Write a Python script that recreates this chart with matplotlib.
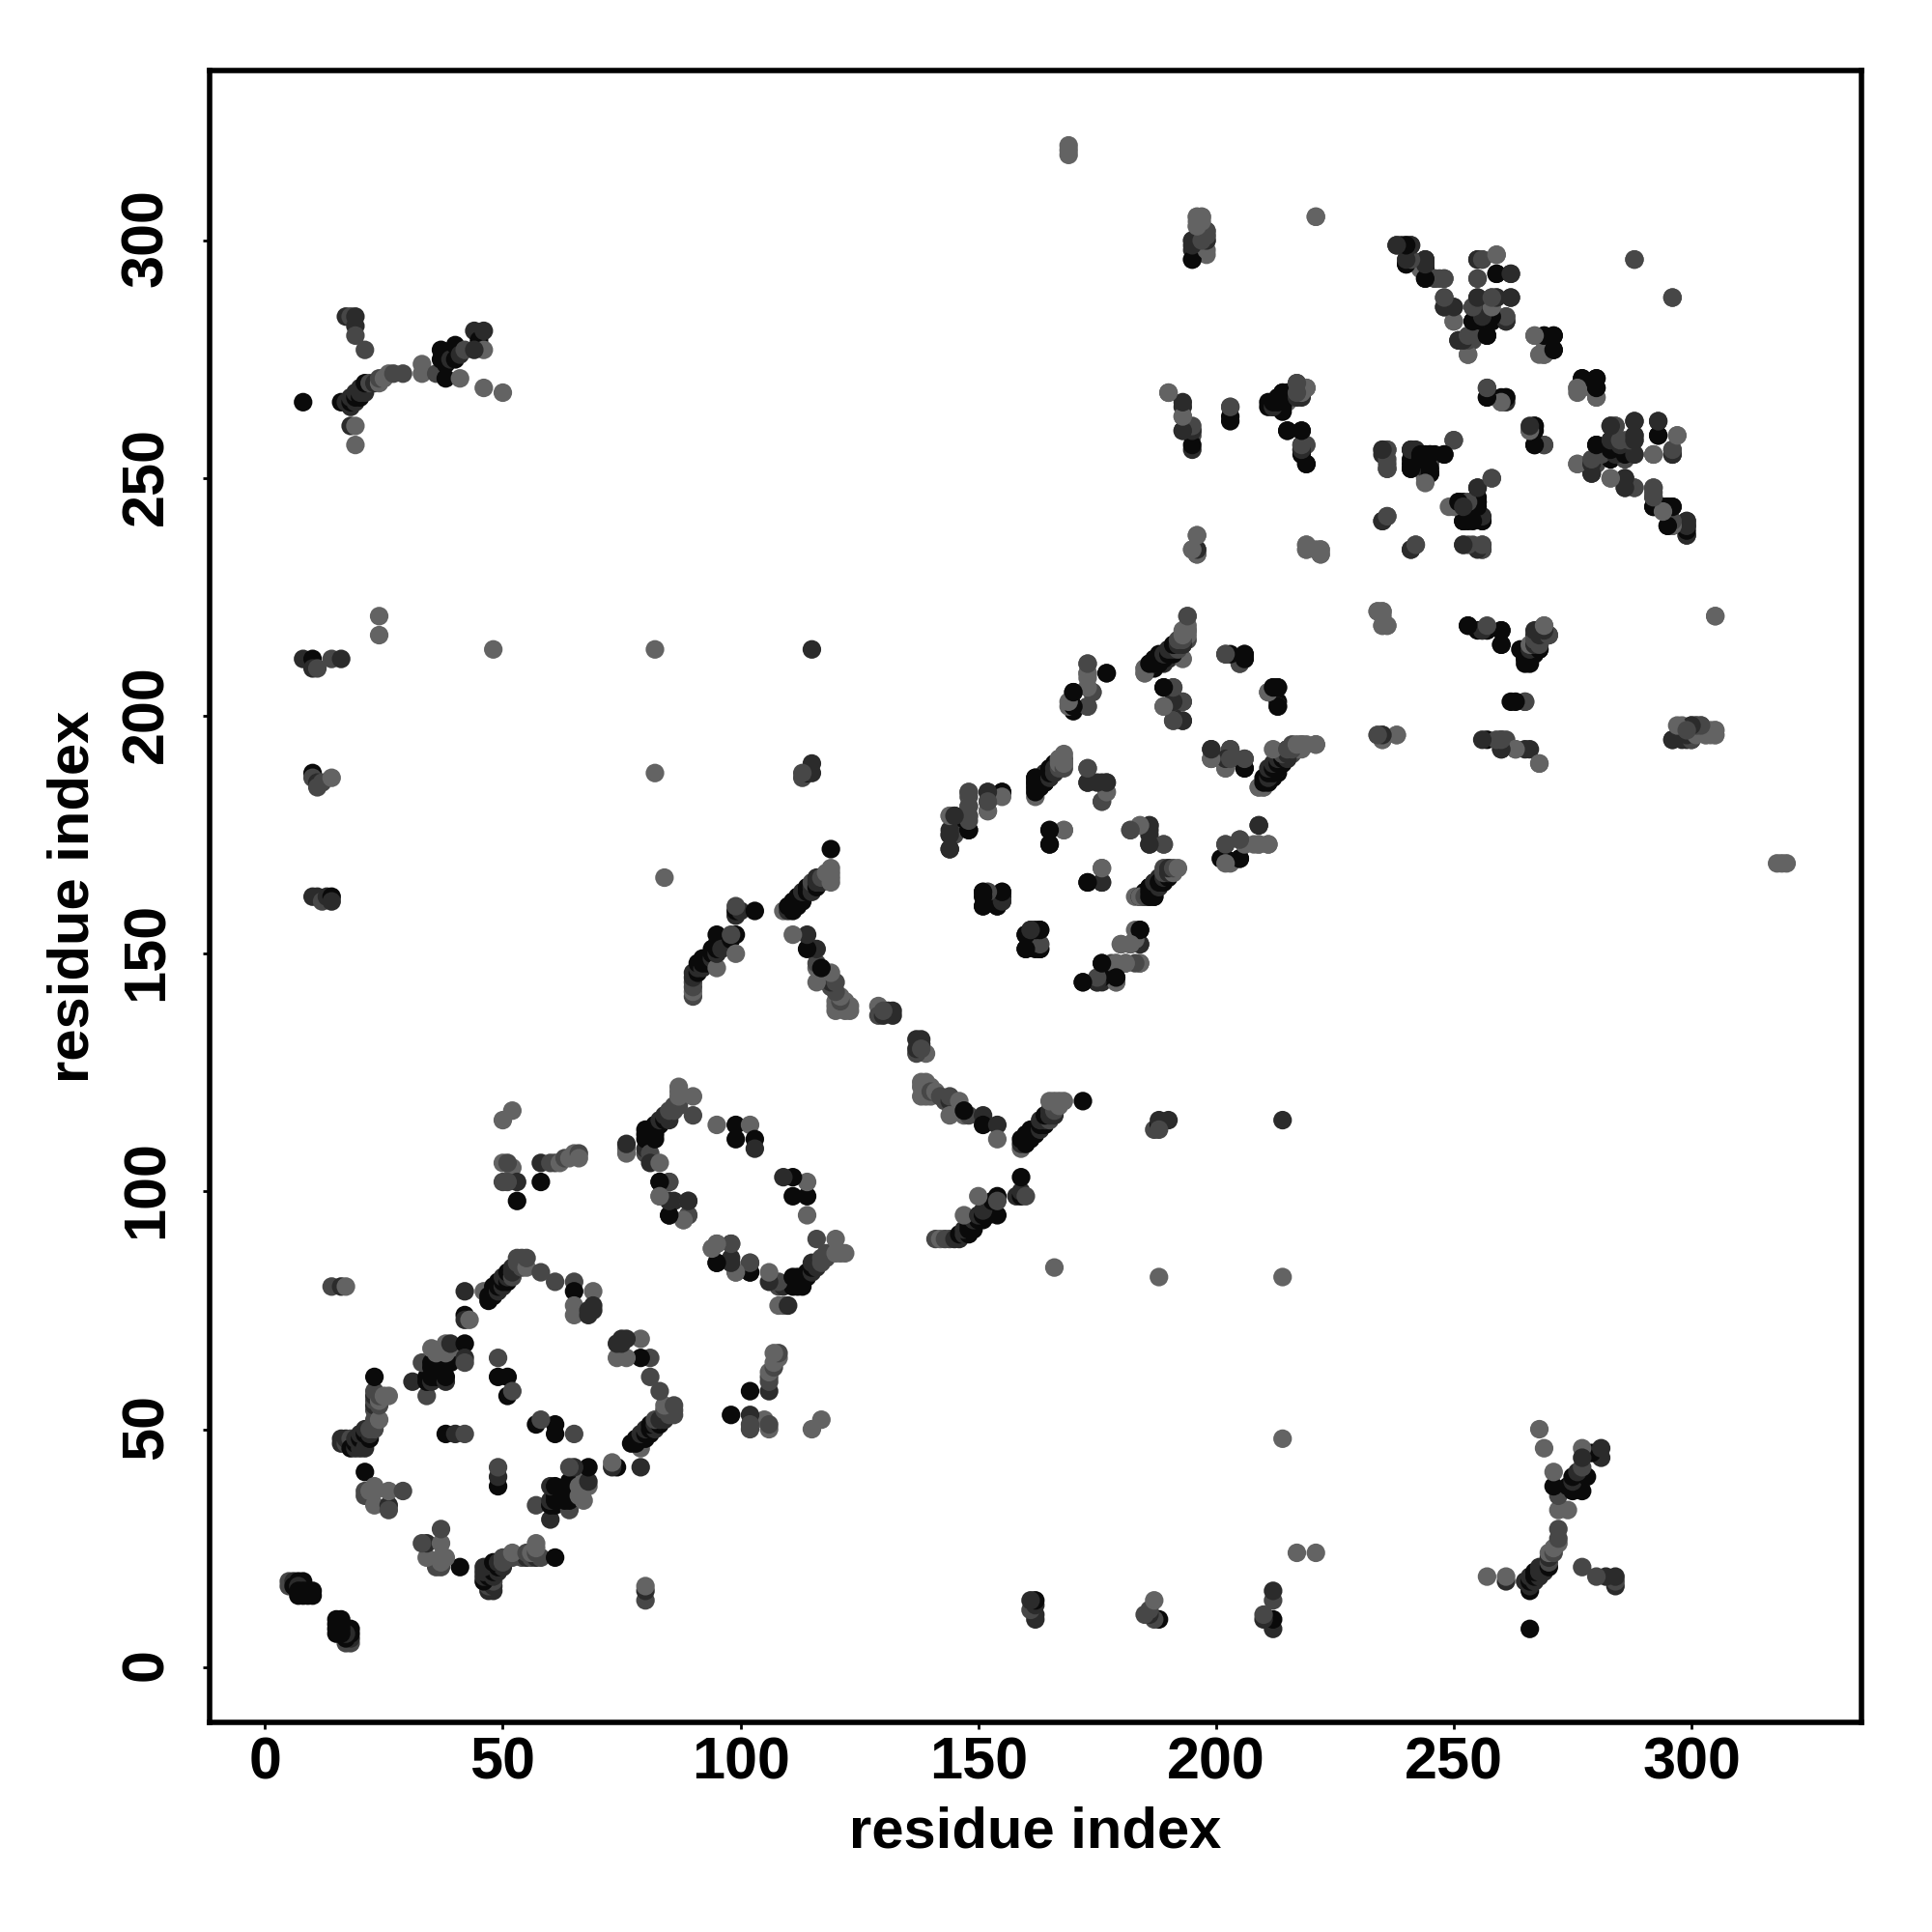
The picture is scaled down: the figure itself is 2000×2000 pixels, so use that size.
import matplotlib
matplotlib.use("Agg")
import matplotlib.pyplot as plt
from matplotlib.transforms import ScaledTranslation

# contacts as (residue i, residue j, shade level), only i < j, the map is symmetric
near_diag = [(5,17,2),(5,18,2),(6,18,1),(7,18,0),(8,18,0),(6,17,0),(7,17,1),(7,16,0),(7,15,0),(8,15,0),(8,16,0),
             (9,16,0),(9,15,0),(10,16,0),(10,15,0)]
helix_left = [(16,47,1),(16,48,1),(17,47,2),(17,48,1),(18,47,1),(18,48,2),(18,46,0),(19,46,1),(19,47,0),(19,48,1),
              (20,46,1),(20,48,0),(20,49,1),(21,46,1),(21,49,0),(21,50,1),(22,48,0),(22,49,1),(22,50,2),(23,50,2),
              (23,51,2),(23,52,2),(23,54,2),(23,55,1),(23,56,2),(23,57,1),(23,58,2),(24,52,3),(24,55,2),(24,56,3),
              (24,57,2),(25,57,3),(26,57,3),(23,61,0)]
helix_low = [(21,41,0),(21,36,2),(21,37,2),(22,37,3),(23,34,3),(23,37,3),(23,38,3),(26,34,1),(26,37,3),(26,33,2),(29,37,2)]
helix_top = [(46,79,3),(47,77,0),(47,78,0),(48,78,0),(48,79,0),(48,80,0),(49,79,1),(49,80,0),(49,81,0),(50,80,1),
             (50,81,0),(50,82,1),(51,81,0),(51,82,1),(51,83,0),(52,82,2),(52,83,1),(52,84,1),(53,84,1),(53,85,2),
             (53,86,2),(54,84,2),(54,85,2),(54,86,2),(55,84,3),(55,86,2),(58,83,2),(61,81,2),(65,81,2),(65,79,0),
             (65,76,3),(65,74,3),(69,79,3),(69,76,1),(68,74,1),(69,75,1),(68,75,1),(42,79,1),(42,74,0),(42,73,1),(43,73,3)]
core = [(31,60,1),(34,57,2),(34,60,0),(34,61,0),(33,64,2),(35,60,1),(35,61,0),(35,63,0),(35,64,0),(36,61,0),(36,63,0),
        (36,64,0),(37,61,0),(37,64,0),(38,60,1),(38,61,0),(38,64,0),(39,64,0),(38,66,3),(35,67,3),(36,66,3),(38,68,3),
        (39,67,3),(39,68,1),(42,68,0),(42,65,1),(42,64,2),(38,49,0),(40,49,1),(42,49,2),(49,65,2),(49,61,0),(51,61,0),
        (51,57,0),(52,58,2)]
strands_left = [(14,80,2),(16,80,1),(17,80,3),(50,115,3),(52,117,3),(50,106,3),(52,105,3),(50,102,2),(53,102,1),(53,98,0),
                (51,102,2),(51,106,2),(58,102,0),(58,106,1),(60,106,2),(61,106,2),(62,106,3),(63,107,2),(64,107,3),
                (65,108,3),(66,108,2),(66,107,3)]
blob_two = [(80,108,2),(80,109,1),(76,108,3),(76,109,3),(76,110,1),(80,111,0),(80,112,0),(80,113,0),(81,108,2),(81,106,1),
            (81,112,0),(81,113,0),(82,111,0),(82,112,0),(82,113,0),(82,114,0),(83,106,3),(83,114,0),(83,115,1),(84,115,0),
            (84,116,1),(85,115,1),(85,116,1),(85,117,2),(86,117,2),(86,118,2),(87,118,2),(87,119,2),(87,120,3),(87,121,3),
            (87,122,3),(90,120,3),(90,116,2)]
ring_two = [(83,102,0),(85,102,2),(83,99,3),(85,98,1),(86,98,1),(89,98,2),(85,95,0),(88,94,3),(89,95,3),(95,89,2),(94,88,3),
            (95,85,0),(98,89,1),(98,85,1),(95,114,3),(99,114,0),(102,114,3),(99,111,0),(103,111,0),(103,109,1),(102,85,2),
            (102,83,0),(99,83,3)]
strand_mid = [(90,141,2),(90,142,3),(90,143,2),(90,144,2),(90,145,1),(90,146,1),(91,146,0),(91,147,1),(91,148,0),(92,147,1),
              (92,148,0),(92,149,0),(93,148,0),(93,149,0),(94,149,1),(94,150,0),(94,151,0),(95,147,3),(95,150,1),(95,151,0),
              (95,152,0),(95,154,0),(96,151,1),(98,153,0),(99,154,0),(99,150,3),(98,154,2),(99,158,1),(99,159,0),(100,159,1),
              (103,159,0),(99,160,2)]
turn_mid = [(122,138,3),(123,138,3),(123,139,3),(122,140,3),(120,138,3),(120,139,3),(120,140,3),(121,140,2),(121,141,3),
            (120,142,2),(119,143,2),(119,144,1),(120,144,2),(116,144,3),(119,146,3),(116,147,3),(116,148,2),(117,147,0),
            (116,151,1),(114,151,0),(114,154,1),(111,154,3),(129,139,3),(129,137,2),(131,138,1),(132,138,1),(132,137,1),
            (130,137,1),(130,138,2)]
strand_up = [(109,159,3),(110,159,1),(111,159,0),(110,160,0),(111,160,0),(112,160,0),(111,161,0),(112,161,0),(112,162,0),
             (113,161,0),(113,162,0),(113,163,1),(114,163,0),(114,164,0),(115,163,1),(115,164,1),(115,165,2),(116,164,0),
             (116,165,1),(116,166,1),(117,165,1),(117,166,2),(118,166,2),(118,167,3),(119,165,3),(119,166,3),(119,167,3),
             (119,168,3),(119,172,0)]
long_range = [(8,212,1),(10,212,0),(10,210,1),(11,210,2),(14,212,2),(16,212,1),(24,221,3),(24,217,3),(48,214,3),(82,214,3),
              (115,214,1),(10,188,0),(10,187,2),(11,186,1),(11,185,2),(12,186,2),(14,187,3),(10,162,1),(11,162,1),(12,161,2),
              (13,162,1),(14,162,0),(14,161,1),(82,188,3),(84,166,3),(113,187,2),(114,188,0),(115,188,1),(115,190,1),(113,188,2)]
far_right = [(169,318,3),(169,319,3),(169,320,3),(8,266,0),(16,266,0),(17,266,1),(18,265,1),(18,266,0),(18,267,1),(19,266,1),
             (19,267,0),(19,268,1),(20,267,0),(20,268,1),(20,269,1),(21,268,1),(21,269,1),(21,270,0),(22,270,2),(23,270,1),
             (24,270,3),(24,271,2),(25,271,3),(26,272,3),(27,272,2),(29,272,2),(33,272,3),(33,274,3),(36,272,2),(37,275,0),
             (37,277,0),(38,274,0),(38,271,0),(39,275,1),(40,275,0),(40,278,0),(41,276,1),(41,271,3),(42,277,2),(44,281,1),
             (45,279,0),(46,281,1),(46,277,3),(44,277,1),(46,269,3),(50,268,3),(17,284,1),(18,284,2),(19,284,1),(19,282,1),
             (19,280,2),(21,277,2),(18,261,1),(19,261,3),(19,257,3)]
hairpin = [(170,205,0),(170,202,0),(170,201,0),(169,202,3),(173,211,3),(173,209,3),(173,208,3),(173,206,3),(174,205,2),
           (173,202,2),(177,209,1),(185,209,3),(185,210,3),(186,210,0),(186,211,0),(187,210,0),(187,211,1),(188,211,0),
           (188,212,0),(189,211,1),(189,212,0),(189,213,0),(190,212,1),(190,213,0),(190,214,0),(191,213,1),(191,214,0),
           (191,215,1),(192,214,2),(192,215,1),(193,212,3),(193,215,2),(193,216,2),(194,216,2),(194,217,3),(194,218,3),
           (194,219,3),(194,221,3),(189,206,0),(191,206,2),(189,202,3),(193,203,2),(191,202,1),(191,199,3),(193,199,1),
           (191,203,2),(202,213,0),(205,211,3),(206,213,0),(206,212,0),(211,205,2),(213,206,0),(212,206,0),(213,203,0),
           (213,202,2),(199,193,1),(199,191,2),(203,193,2),(203,191,1),(202,189,3),(206,191,2),(206,189,0),(209,185,3),
           (210,185,3),(211,186,0),(211,187,0),(211,188,0),(212,187,0),(212,188,0),(212,189,0),(213,188,0),(213,189,1),
           (213,190,0),(213,191,0),(214,190,1),(214,191,1),(214,192,2),(215,191,0),(215,192,1),(215,193,1),(216,192,2),
           (216,193,2),(217,193,3),(218,193,3),(218,194,3),(221,194,2)]
barrel_low = [(162,184,3),(162,185,2),(162,186,0),(162,187,0),(163,186,0),(163,187,0),(164,186,0),(164,187,0),(164,188,1),
              (165,187,1),(165,188,0),(165,189,0),(166,189,1),(166,190,0),(167,189,2),(167,190,1),(167,191,3),(168,190,1),
              (168,191,2),(168,192,3),(173,189,2),(173,186,1),(177,186,1),(176,186,1),(177,184,3),(176,182,2),(148,184,3),
              (148,183,2),(148,181,3),(148,179,3),(152,184,1),(153,183,3),(155,184,0),(152,182,3),(152,180,3),(144,179,3),
              (145,179,0),(145,176,0),(144,175,1),(145,175,2),(148,176,0),(144,172,0),(165,176,1),(168,176,3),(165,173,0),
              (182,176,2),(184,177,3),(186,177,1),(186,175,1),(186,173,1),(189,173,2),(176,168,3),(173,165,0),(176,165,0)]
barrel_up = [(183,162,3),(184,162,0),(185,162,0),(186,162,0),(187,162,0),(185,163,0),(186,163,0),(186,164,0),(187,164,0),
             (187,165,1),(188,165,0),(188,166,1),(189,166,1),(189,167,2),(190,167,3),(191,167,3),(189,168,2),(190,168,3),
             (151,163,0),(152,163,2),(155,163,0),(155,162,0),(151,160,0),(154,160,0),(155,161,1),(160,154,0),(161,155,1),
             (163,155,0),(160,151,0),(163,152,2),(162,151,0),(163,151,0),(184,155,0),(183,155,3),(184,152,1),(180,152,3),
             (182,152,2),(176,148,0),(178,148,2),(179,148,2),(181,148,2),(184,148,2),(172,144,1),(175,144,1),(176,144,1),
             (179,144,3),(179,145,1),(202,173,2),(205,174,2),(206,173,3),(209,173,3),(211,173,2),(202,170,0),(203,169,3),
             (205,170,0),(209,177,0)]
upper_mid = [(195,296,1),(195,298,1),(195,300,2),(196,299,1),(196,301,3),(196,303,3),(196,305,3),(197,305,3),(197,303,3),
             (198,301,2),(198,302,2),(198,300,1),(198,297,3),(197,299,2),(221,305,3),(190,268,3),(193,265,1),(193,263,3),
             (193,260,1),(195,260,2),(195,259,2),(195,256,1),(203,265,2),(203,263,0),(211,265,0),(211,266,0),(212,265,0),
             (212,266,0),(213,265,0),(213,267,0),(214,265,0),(214,266,1),(214,268,0),(215,266,3),(215,267,1),(215,268,2),
             (216,267,2),(217,268,1),(217,270,2),(218,269,1),(218,267,1),(219,269,3),(215,260,0),(218,260,0),(218,257,0),
             (218,256,1),(219,257,2),(219,253,0),(196,238,3),(195,235,3),(196,235,1),(196,234,2),(219,235,3),(219,236,3),
             (221,235,3),(222,235,3),(222,234,3)]
sheet_low = [(234,222,3),(235,222,3),(235,219,3),(236,219,3),(234,196,3),(235,196,1),(235,195,3),(238,196,3),(253,219,0),
             (255,218,0),(256,218,1),(257,218,2),(260,218,0),(260,215,0),(264,214,0),(265,214,0),(265,213,0),(265,212,1),
             (266,212,0),(266,213,0),(267,214,0),(268,214,0),(268,215,0),(267,217,1),(268,218,3),(269,219,3),(268,217,2),
             (270,217,2),(262,203,0),(265,203,2),(257,195,0),(260,195,1),(261,195,2),(260,193,1),(263,193,3),(266,193,1),
             (268,190,3),(296,195,0),(298,198,3),(299,195,1),(300,195,1),(300,198,1),(300,197,2),(301,198,2),(302,198,2),
             (303,197,2),(303,196,3),(304,197,3),(304,196,3),(305,196,3),(305,197,3),(305,221,3)]
sheet_pair = [(235,256,2),(235,255,1),(236,256,2),(236,253,2),(236,252,1),(241,256,0),(242,256,1),(241,252,0),(241,254,0),
              (244,250,3),(244,255,0),(245,255,0),(246,255,0),(245,253,2),(245,251,0),(244,252,1),(248,255,1),(250,258,2),
              (258,250,2),(255,248,0),(255,245,0),(251,245,0),(252,245,0),(249,244,3),(252,241,0),(253,241,0),(256,241,1),
              (255,243,0),(254,243,0),(235,241,1),(236,242,2),(241,235,1),(242,236,2),(252,236,2),(254,236,2),(256,236,2),
              (256,235,1)]
sheet_top = [(238,299,1),(239,299,0),(240,299,1),(241,299,1),(240,296,3),(241,296,2),(240,295,0),(244,296,0),(244,295,0),
             (244,294,0),(244,292,0),(243,294,3),(246,292,2),(247,292,2),(248,292,2),(248,288,2),(248,286,1),(250,286,1),
             (250,283,3),(251,279,1),(253,276,3),(253,279,1),(254,279,2),(254,283,0),(254,286,2),(255,281,2),(255,284,1),
             (255,286,0),(255,288,1),(255,292,3),(255,296,1),(256,296,2),(256,283,0),(257,280,0),(257,283,0),(257,285,1),
             (258,283,1),(258,285,2),(258,287,2),(258,288,1),(259,288,1),(259,293,0),(259,297,3),(261,284,2),(261,283,1),
             (262,288,1),(262,293,1),(267,280,3),(269,280,0),(271,280,0),(271,277,0),(269,276,3),(268,276,3),(257,269,2),
             (257,267,0),(260,267,0),(261,267,0),(260,266,3),(261,266,1),(276,269,3),(277,269,3),(277,271,0),(280,271,0),
             (280,269,0),(280,267,3),(267,261,0),(266,260,3),(267,257,0),(269,257,2),(276,253,3),(279,251,1),(279,253,2),
             (279,252,1),(280,253,2),(280,257,0),(283,254,0),(283,250,3),(283,258,0),(283,261,1),(284,261,2),(284,258,0),
             (284,256,1),(286,254,2),(286,258,3),(286,250,1),(286,248,1),(288,248,2),(288,255,1),(288,259,1),(288,258,2),
             (288,262,1),(292,255,2),(292,248,2),(292,246,2),(292,244,0),(293,259,0),(293,262,1),(296,288,2),(288,296,2),
             (296,255,1),(296,256,2),(297,259,3),(295,244,1),(296,244,1),(295,240,0),(296,241,2),(296,240,1),(299,241,1),
             (299,240,0),(299,238,1)]

contacts = (near_diag + helix_left + helix_low + helix_top + core + strands_left + blob_two + ring_two + strand_mid
            + turn_mid + strand_up + long_range + far_right + hairpin + barrel_low + barrel_up + upper_mid + sheet_low
            + sheet_pair + sheet_top)

grays = ['#0a0a0a', '#2b2b2b', '#474747', '#636363']
tick_vals = [0, 50, 100, 150, 200, 250, 300]

res_i = [c[0] for c in contacts]
res_j = [c[1] for c in contacts]
cols = [grays[c[2]] for c in contacts]

plt.rcParams['font.family'] = ['Liberation Sans', 'DejaVu Sans']
plt.rcParams['font.weight'] = 'bold'

fig = plt.figure(figsize=(10, 10), dpi=200)
ax = fig.add_axes([217/2000, 217/2000, 1710/2000, 1710/2000])

ax.scatter(res_i, res_j, s=48, c=cols, linewidths=0)
ax.scatter(res_j, res_i, s=48, c=cols, linewidths=0)

ax.set_xlim(-11.66, 335.75)
ax.set_ylim(-11.66, 335.75)
ax.set_xticks(tick_vals)
ax.set_yticks(tick_vals)
ax.tick_params(length=2.5, width=1, labelsize=22)
ax.tick_params(axis='x', pad=2.6)
ax.tick_params(axis='y', pad=10.4)
shift_up = ScaledTranslation(0, 0.9/72, fig.dpi_scale_trans)
for lab in ax.get_yticklabels():
    lab.set_rotation(90)
    lab.set_va('center')
    lab.set_transform(lab.get_transform() + shift_up)
ax.set_xlabel('residue index', fontsize=21.5, fontweight='bold', labelpad=5.5)
ax.set_ylabel('residue index', fontsize=21.5, fontweight='bold', labelpad=7.5)
for s in ax.spines.values():
    s.set_linewidth(2)

fig.savefig('out.png', dpi=200)
